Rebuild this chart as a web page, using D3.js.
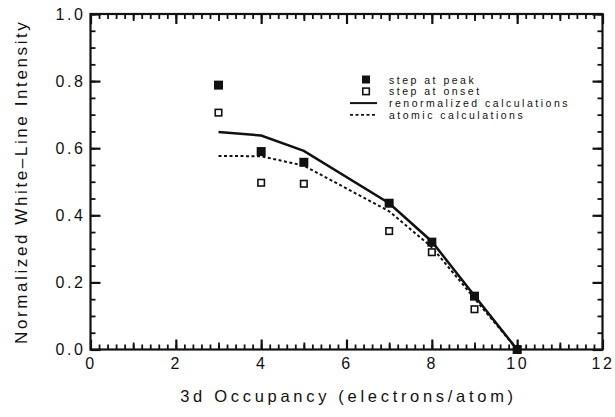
<!DOCTYPE html>
<html>
<head>
<meta charset="utf-8">
<script src="https://cdn.jsdelivr.net/npm/d3@7"></script>
<style>
    body { margin: 0; background: #fff; }
    text { font-family: "Liberation Sans", Arial, Helvetica, sans-serif; fill: #111; }
</style>
</head>
<body>
<div id="chart"></div>
<script>
    'use strict';

    // 3d occupancy for each measured element
    var occupancy = [3, 4, 5, 7, 8, 9, 10];
    var stepAtPeak = [0.788, 0.590, 0.558, 0.436, 0.320, 0.159, 0.0];
    var stepAtOnset = [0.706, 0.497, 0.494, 0.353, 0.290, 0.120, 0.0];
    var renormalized = [0.648, 0.638, 0.592, 0.436, 0.322, 0.160, 0.0];
    var atomic = [0.577, 0.576, 0.548, 0.412, 0.305, 0.152, 0.0];

    var xTicks = [0, 2, 4, 6, 8, 10, 12];
    var yTicks = [0.0, 0.2, 0.4, 0.6, 0.8, 1.0];
    var legendLabels = ["step at peak", "step at onset", "renormalized calculations", "atomic calculations"];

    var width = 615, height = 417;
    var margin = {top: 14, right: 12.5, bottom: 67.5, left: 90.5};
    var plotW = width - margin.left - margin.right;
    var plotH = height - margin.top - margin.bottom;

    var svg = d3.select("#chart")
        .append("svg")
        .attr("width", width)
        .attr("height", height);

    var g = svg.append("g")
        .attr("transform", "translate(" + margin.left + "," + margin.top + ")");

    var x = d3.scaleLinear().domain([0, 12]).range([0, plotW]);
    var y = d3.scaleLinear().domain([0, 1]).range([plotH, 0]);

    var xMinor = d3.range(0, 12.01, 0.2).map(function (d) { return Math.round(d * 10) / 10; });
    var xMid = [1, 3, 5, 7, 9, 11];
    var yMinor = d3.range(0, 1.001, 0.05).map(function (d) { return Math.round(d * 100) / 100; });

    function tickStyle(sel, w) {
        sel.select(".domain").remove();
        sel.selectAll(".tick line").attr("stroke", "#111").attr("stroke-width", w);
        sel.selectAll(".tick text")
            .style("font-size", "16px")
            .style("letter-spacing", "2.6px")
            .attr("fill", "#111");
    }

    // minor ticks on all four sides, pointing inward
    g.append("g").attr("transform", "translate(0," + plotH + ")")
        .call(d3.axisBottom(x).tickValues(xMinor).tickSize(-5).tickFormat(""))
        .call(tickStyle, 1.8);
    g.append("g")
        .call(d3.axisTop(x).tickValues(xMinor).tickSize(-5).tickFormat(""))
        .call(tickStyle, 1.8);
    g.append("g").attr("transform", "translate(0," + plotH + ")")
        .call(d3.axisBottom(x).tickValues(xMid).tickSize(-7).tickFormat(""))
        .call(tickStyle, 1.8);
    g.append("g")
        .call(d3.axisTop(x).tickValues(xMid).tickSize(-7).tickFormat(""))
        .call(tickStyle, 1.8);
    g.append("g")
        .call(d3.axisLeft(y).tickValues(yMinor).tickSize(-5).tickFormat(""))
        .call(tickStyle, 1.8);
    g.append("g").attr("transform", "translate(" + plotW + ",0)")
        .call(d3.axisRight(y).tickValues(yMinor).tickSize(-5).tickFormat(""))
        .call(tickStyle, 1.8);

    // major ticks with labels
    g.append("g").attr("class", "x-axis").attr("transform", "translate(0," + plotH + ")")
        .call(d3.axisBottom(x).tickValues(xTicks).tickSize(-10).tickPadding(8).tickFormat(d3.format("d")))
        .call(tickStyle, 2.2);
    g.append("g")
        .call(d3.axisTop(x).tickValues(xTicks).tickSize(-10).tickFormat(""))
        .call(tickStyle, 2.2);
    g.append("g").attr("class", "y-axis")
        .call(d3.axisLeft(y).tickValues(yTicks).tickSize(-10).tickPadding(5).tickFormat(d3.format(".1f")))
        .call(tickStyle, 2.2);
    g.append("g").attr("transform", "translate(" + plotW + ",0)")
        .call(d3.axisRight(y).tickValues(yTicks).tickSize(-10).tickFormat(""))
        .call(tickStyle, 2.2);

    // frame
    g.append("rect")
        .attr("width", plotW)
        .attr("height", plotH)
        .attr("fill", "none")
        .attr("stroke", "#111")
        .attr("stroke-width", 2.2);

    var pts = occupancy.map(function (d, i) {
        return {x: d, peak: stepAtPeak[i], onset: stepAtOnset[i], renorm: renormalized[i], atomic: atomic[i]};
    });

    var renormLine = d3.line().x(function (d) { return x(d.x); }).y(function (d) { return y(d.renorm); });
    var atomicLine = d3.line().x(function (d) { return x(d.x); }).y(function (d) { return y(d.atomic); });

    g.append("path")
        .datum(pts)
        .attr("d", atomicLine)
        .attr("fill", "none")
        .attr("stroke", "#111")
        .attr("stroke-width", 2)
        .attr("stroke-dasharray", "3,2.5");

    g.append("path")
        .datum(pts)
        .attr("d", renormLine)
        .attr("fill", "none")
        .attr("stroke", "#111")
        .attr("stroke-width", 2.5);

    var sq = 8;
    g.selectAll("rect.onset")
        .data(pts)
        .enter()
        .append("rect")
        .attr("class", "onset")
        .attr("x", function (d) { return x(d.x) - sq / 2 + 0.75; })
        .attr("y", function (d) { return y(d.onset) - sq / 2 + 0.75; })
        .attr("width", sq - 1.5)
        .attr("height", sq - 1.5)
        .attr("fill", "#fff")
        .attr("stroke", "#111")
        .attr("stroke-width", 1.6);

    g.selectAll("rect.peak")
        .data(pts)
        .enter()
        .append("rect")
        .attr("class", "peak")
        .attr("x", function (d) { return x(d.x) - sq / 2 - 0.5; })
        .attr("y", function (d) { return y(d.peak) - sq / 2 - 0.5; })
        .attr("width", sq + 1)
        .attr("height", sq + 1)
        .attr("fill", "#111");

    // legend, rows kept just far enough apart that the labels do not touch
    var legend = svg.append("g").attr("transform", "translate(350,79.5)");
    var rowH = 11.8;
    legendLabels.forEach(function (label, i) {
        var cy = i * rowH;
        if (i === 0) {
            legend.append("rect").attr("x", 12).attr("y", cy - 4).attr("width", 8).attr("height", 8).attr("fill", "#111");
        } else if (i === 1) {
            legend.append("rect").attr("x", 12.8).attr("y", cy - 3.2).attr("width", 6.5).attr("height", 6.5)
                .attr("fill", "#fff").attr("stroke", "#111").attr("stroke-width", 1.6);
        } else {
            legend.append("line").attr("x1", 0).attr("x2", 27).attr("y1", cy).attr("y2", cy)
                .attr("stroke", "#111").attr("stroke-width", i === 2 ? 2 : 1.8)
                .attr("stroke-dasharray", i === 2 ? null : "3,2.5");
        }
        legend.append("text")
            .attr("x", 39)
            .attr("y", cy + 4)
            .style("font-size", "10.5px")
            .style("letter-spacing", "2.5px")
            .text(label);
    });

    // axis titles
    svg.append("text")
        .attr("x", margin.left + x(6) + 2)
        .attr("y", 402)
        .attr("text-anchor", "middle")
        .style("font-size", "16.5px")
        .style("letter-spacing", "3.7px")
        .text("3d  Occupancy  (electrons/atom)");

    svg.append("text")
        .attr("transform", "translate(27," + (margin.top + plotH / 2) + ") rotate(-90)")
        .attr("text-anchor", "middle")
        .style("font-size", "17px")
        .style("letter-spacing", "2.6px")
        .text("Normalized  White\u2013Line  Intensity");
</script>
</body>
</html>
